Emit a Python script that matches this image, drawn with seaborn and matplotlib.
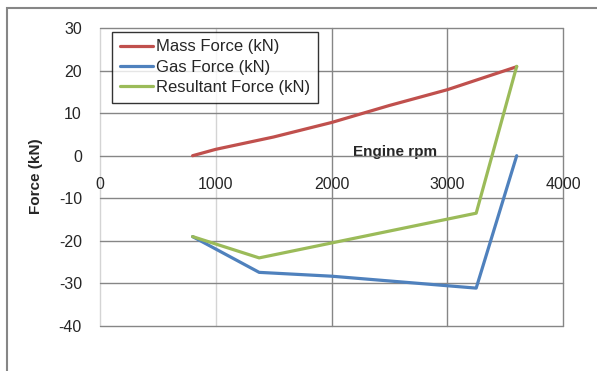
import matplotlib
matplotlib.use("Agg")
import matplotlib.pyplot as plt
from matplotlib.patches import Rectangle
import seaborn as sns
import pandas as pd

# values
mass_rpm = [800, 1000, 1500, 2000, 2500, 3000, 3600]
mass_force = [0.0, 1.5, 4.4, 7.8, 11.8, 15.5, 20.9]

gas_rpm = [800, 1375, 2000, 3250, 3600]
gas_force = [-19.0, -27.4, -28.3, -31.1, 0.0]
resultant_force = [-19.0, -24.0, -20.5, -13.5, 21.0]

series_names = ["Mass Force (kN)", "Gas Force (kN)", "Resultant Force (kN)"]
series_colors = ["#C0504D", "#4F81BD", "#9BBB59"]

df = pd.concat([
    pd.DataFrame({"rpm": mass_rpm, "force": mass_force, "series": series_names[0]}),
    pd.DataFrame({"rpm": gas_rpm, "force": gas_force, "series": series_names[1]}),
    pd.DataFrame({"rpm": gas_rpm, "force": resultant_force, "series": series_names[2]}),
], ignore_index=True)

sns.set_style("white")
plt.rcParams["font.family"] = ["Liberation Sans", "DejaVu Sans"]
plt.rcParams["axes.unicode_minus"] = False

fig = plt.figure(figsize=(5.97, 3.71), dpi=100)
ax = fig.add_axes([100 / 597, 1 - 326 / 371, 463 / 597, 298 / 371])

sns.lineplot(data=df, x="rpm", y="force", hue="series", hue_order=series_names,
             palette=series_colors, estimator=None, sort=False, linewidth=2.3, ax=ax)

ax.set_xlim(0, 4000)
ax.set_ylim(-40, 30)
ax.set_xticks(range(0, 4001, 1000))
ax.set_yticks(range(-40, 31, 10))

for s in ax.spines.values():
    s.set_visible(False)
ax.spines["bottom"].set_position(("data", 0))

ax.grid(True, color="#868686", linewidth=1)
ax.set_axisbelow(True)
for gl in ax.get_xgridlines() + ax.get_ygridlines():
    gl.set_clip_on(False)
for gl, v in zip(ax.get_xgridlines(), ax.get_xticks()):
    if v < 2000:
        gl.set_color("#d4d4d4")

ax.tick_params(axis="x", length=0, pad=15, labelsize=11.5)
ax.tick_params(axis="y", length=3, color="#868686", direction="out", pad=10, labelsize=11.5)

ax.set_xlabel("Engine rpm", fontsize=11, fontweight="bold")
ax.xaxis.set_label_coords((395 - 100) / 463, (326 - 145) / 298)
ax.set_ylabel("Force (kN)", fontsize=11, fontweight="bold")
ax.yaxis.set_label_coords((43 - 100) / 463, (326 - 176) / 298)

handles, labels = ax.get_legend_handles_labels()
leg = ax.legend(handles, labels, loc="upper left",
                bbox_to_anchor=(112 / 597, 1 - 32 / 371), bbox_transform=fig.transFigure,
                frameon=True, fancybox=False, fontsize=12, handlelength=2.0,
                handletextpad=0.2, labelspacing=0.32, borderpad=0.45, borderaxespad=0)
leg.get_frame().set_edgecolor("black")
leg.get_frame().set_linewidth(1)
for ln in leg.get_lines():
    ln.set_linewidth(2.3)

# outer chart-area border
fig.patches.append(Rectangle((7 / 597, -0.2), 1.2, 1.2 - 8 / 371,
                             transform=fig.transFigure, fill=False,
                             edgecolor="#868686", linewidth=1.5))

fig.savefig("out.png", dpi=100, facecolor="white")
